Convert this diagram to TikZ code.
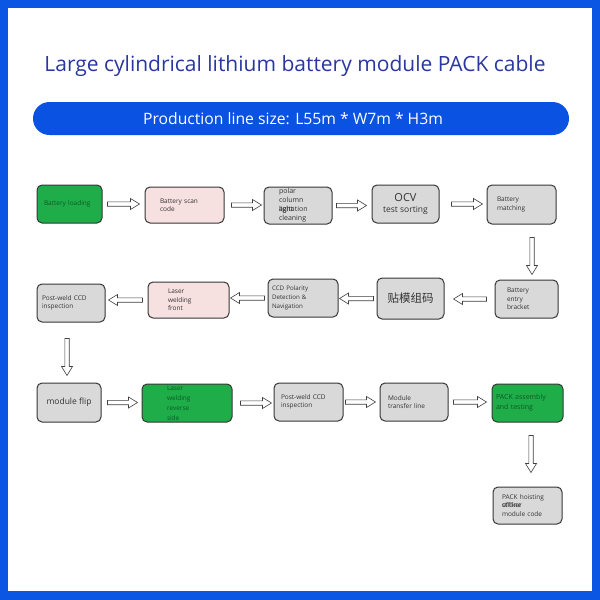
\documentclass[tikz,border=0pt]{standalone}
\usepackage{fontspec}
\setmainfont{Open Sans}
\newfontfamily\cjk{Noto Sans CJK SC}
\usetikzlibrary{calc}
\definecolor{frameblue}{RGB}{11,86,227}
\definecolor{bannerblue}{RGB}{10,82,226}
\definecolor{titleblue}{RGB}{42,55,158}
\definecolor{boxgreen}{RGB}{31,173,74}
\definecolor{txtgreen}{RGB}{12,90,35}
\definecolor{boxpink}{RGB}{246,224,224}
\definecolor{boxgray}{RGB}{217,217,217}
\definecolor{edgegray}{RGB}{55,55,55}
\tikzset{
  bx/.style={draw=edgegray, line width=1pt, rounded corners=5pt, inner sep=0pt,
    align=left, font=\fontsize{6.5}{8.5}\selectfont, text=black!80},
  gbox/.style={bx, fill=boxgray},
  pbox/.style={bx, fill=boxpink},
  grbox/.style={bx, fill=boxgreen, text=txtgreen},
  arr/.style={draw=black!75, fill=white, line width=0.6pt, line join=miter},
}
% #1 start point, #2 end point, #3 gap at start, #4 gap at end
\newcommand\barrow[4]{%
  \coordinate (ba) at ($#1!#3!#2$);
  \coordinate (bb) at ($#2!#4!#1$);
  \coordinate (bh) at ($(bb)!9pt!(ba)$);
  \draw[arr] ($(ba)!2.2pt!90:(bb)$) -- ($(bh)!2.2pt!90:(bb)$) -- ($(bh)!5.5pt!90:(bb)$)
    -- (bb) -- ($(bh)!5.5pt!-90:(bb)$) -- ($(bh)!2.2pt!-90:(bb)$) -- ($(ba)!2.2pt!-90:(bb)$) -- cycle;
}
\begin{document}
\begin{tikzpicture}[x=1pt,y=-1pt]
\useasboundingbox (0,0) rectangle (600,600);
\fill[frameblue] (0,0) rectangle (600,600);
\fill[white] (8,8) rectangle (592,591);
\node[text=titleblue, font=\fontsize{21}{24}\selectfont] (title) at (295,66) {Large cylindrical lithium battery module PACK cable};
\node[fill=bannerblue, rounded corners=16.5pt, minimum width=536pt, minimum height=33pt, inner sep=0pt] (banner) at (301,118.5) {};
\node[text=white, font=\fontsize{15.7}{18}\selectfont] (size) at (293,119) {Production line size: L55m * W7m * H3m};

% row 1
\node[grbox, minimum width=65pt, minimum height=38pt, text width=51pt] (load) at (69.5,204) {Battery loading};
\node[pbox, minimum width=79pt, minimum height=36pt, text width=49pt] (scan) at (184.5,205) {Battery scan\\code};
\node[gbox, minimum width=68pt, minimum height=37pt, text width=38pt, font=\fontsize{7}{9}\selectfont] (polar) at (298,205.5) {polar\\column\\\leavevmode\rlap{light}agitation\\cleaning};
\node[gbox, minimum width=67pt, minimum height=38pt, align=center, font=\fontsize{8.5}{11}\selectfont] (ocv) at (405.5,204) {{\fontsize{11}{13}\selectfont OCV}\\test sorting};
\node[gbox, minimum width=69pt, minimum height=39pt, text width=49pt] (match) at (521.5,204.5) {Battery\\matching};

% row 2
\node[gbox, minimum width=63pt, minimum height=38pt, text width=39pt] (entry) at (526.5,299) {Battery\\entry\\bracket};
\node[gbox, minimum width=67pt, minimum height=41pt, align=center, font=\cjk\fontsize{11.5}{13}\selectfont] (tiemo) at (410.5,298.5) {贴模组码};
\node[gbox, minimum width=70pt, minimum height=38pt, text width=62pt, font=\fontsize{6.2}{9}\selectfont] (ccdpol) at (303,298) {CCD Polarity\\Detection \&\\Navigation};
\node[pbox, minimum width=81pt, minimum height=36pt, text width=41pt] (lfront) at (188.5,300) {Laser\\welding\\front};
\node[gbox, minimum width=68pt, minimum height=38pt, text width=58pt] (pwa) at (71,303) {Post-weld CCD\\inspection};

% row 3
\node[gbox, minimum width=64pt, minimum height=39pt, align=center, font=\fontsize{8.5}{10}\selectfont] (flip) at (69,402.5) {module flip};
\node[grbox, minimum width=90pt, minimum height=38pt, text width=40pt, font=\fontsize{6.5}{10}\selectfont] (lrev) at (187,403) {Laser\\welding\\reverse\\side};
\node[gbox, minimum width=69pt, minimum height=38pt, text width=55pt] (pwb) at (308.5,402) {Post-weld CCD\\inspection};
\node[gbox, minimum width=68pt, minimum height=38pt, text width=52pt] (mtl) at (414,402) {Module\\transfer line};
\node[grbox, minimum width=71pt, minimum height=38pt, text width=63pt, font=\fontsize{7}{10}\selectfont] (pack) at (527.5,403) {PACK assembly\\and testing};
\node[gbox, minimum width=69pt, minimum height=37pt, text width=51pt] (hoist) at (527.5,505.5) {PACK hoisting\\\leavevmode\rlap{sticker}offline\\module code};

% arrows row 1
\barrow{(load.east)}{(load.east -| scan.west)}{5pt}{5pt}
\barrow{(scan.east)}{(scan.east -| polar.west)}{7pt}{2pt}
\barrow{(polar.east)}{(polar.east -| ocv.west)}{4pt}{5pt}
\barrow{(ocv.east)}{(ocv.east -| match.west)}{12pt}{4pt}
% down right
\coordinate (va) at ([xshift=10.5pt]match.south);
\barrow{(va)}{(va |- entry.north)}{13pt}{5pt}
% arrows row 2
\barrow{(entry.west)}{(entry.west -| tiemo.east)}{8pt}{9pt}
\barrow{(tiemo.west)}{(tiemo.west -| ccdpol.east)}{3pt}{1pt}
\barrow{(ccdpol.west)}{(ccdpol.west -| lfront.east)}{3pt}{1pt}
\barrow{(lfront.west)}{(lfront.west -| pwa.east)}{5pt}{3pt}
% down left
\coordinate (vb) at ([xshift=-4pt]pwa.south);
\barrow{(vb)}{(vb |- flip.north)}{16pt}{7pt}
% arrows row 3
\barrow{(flip.east)}{(flip.east -| lrev.west)}{6pt}{4pt}
\barrow{(lrev.east)}{(lrev.east -| pwb.west)}{8pt}{2pt}
\barrow{(pwb.east)}{(pwb.east -| mtl.west)}{2pt}{4pt}
\barrow{(mtl.east)}{(mtl.east -| pack.west)}{5pt}{5pt}
% down to hoisting
\coordinate (vc) at ([xshift=3.5pt]pack.south);
\barrow{(vc)}{(vc |- hoist.north)}{13pt}{14pt}
\end{tikzpicture}
\end{document}
